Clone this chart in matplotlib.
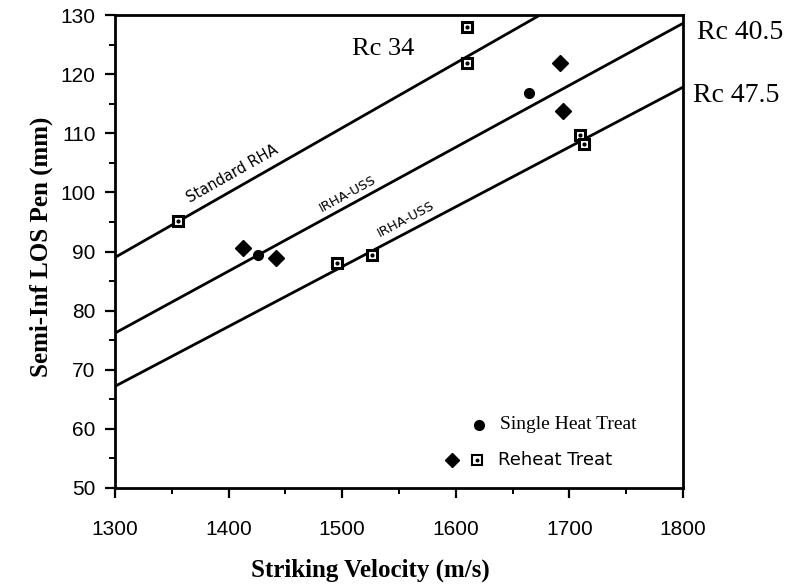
import matplotlib
matplotlib.use('Agg')
import matplotlib.pyplot as plt
import numpy as np

# fitted lines: value at 1300 and at 1800 m/s
line_names = ['Rc 34', 'Rc 40.5', 'Rc 47.5']
line_start = [89.0, 76.2, 67.2]
line_end = [143.8, 128.6, 117.8]

# reheat treat, square markers
sq_v = [1355, 1610, 1610, 1495, 1526, 1709, 1713]
sq_p = [95.1, 128.0, 121.9, 88.0, 89.4, 109.7, 108.2]

# reheat treat, diamond markers
dm_v = [1413, 1442, 1692, 1694]
dm_p = [90.6, 88.9, 121.9, 113.8]

# single heat treat, circles
ci_v = [1426, 1664]
ci_p = [89.4, 116.8]

xticks = [1300, 1400, 1500, 1600, 1700, 1800]
yticks = [50, 60, 70, 80, 90, 100, 110, 120, 130]

fig = plt.figure(figsize=(7.9, 5.87), dpi=100)
ax = fig.add_axes([0.1456, 0.1687, 0.719, 0.8057])

x = np.array([1300, 1800])
for s, e in zip(line_start, line_end):
    ax.plot(x, [s, e], color='black', lw=2.0, zorder=2)

ax.plot(sq_v, sq_p, 's', ms=7.5, mfc='white', mec='black', mew=2.2, zorder=3)
ax.plot(sq_v, sq_p, 'o', ms=2.0, color='black', zorder=4)
ax.plot(dm_v, dm_p, 'D', ms=8, color='black', zorder=3)
ax.plot(ci_v, ci_p, 'o', ms=7, color='black', zorder=3)

ax.set_xlim(1300, 1800)
ax.set_ylim(50, 130)
ax.set_xticks(xticks)
ax.set_yticks(yticks)
ax.set_xticks(np.arange(1350, 1800, 100), minor=True)
ax.set_yticks(np.arange(55, 130, 10), minor=True)
ax.tick_params(which='major', direction='out', length=7, width=1.6, labelsize=15)
ax.tick_params(axis='x', which='major', pad=16)
ax.tick_params(axis='y', which='major', pad=7)
ax.tick_params(which='minor', direction='out', length=4, width=1.4)
for lab in ax.get_xticklabels() + ax.get_yticklabels():
    lab.set_family('Liberation Sans')
for sp in ax.spines.values():
    sp.set_linewidth(2.0)

ax.set_xlabel('Striking Velocity (m/s)', family='Liberation Serif',
              fontweight='bold', fontsize=18)
ax.set_ylabel('Semi-Inf LOS Pen (mm)', family='Liberation Serif',
              fontweight='bold', fontsize=18)
ax.xaxis.set_label_coords(0.449, -0.150)
ax.yaxis.set_label_coords(-0.110, 0.51)

# line labels
ax.text(1366, 98.2, 'Standard RHA', rotation=29.5, family='DejaVu Sans',
        fontsize=10.5, rotation_mode='anchor')
ax.text(1482, 96.6, 'IRHA-USS', rotation=28.6, family='DejaVu Sans',
        fontsize=9.5, rotation_mode='anchor')
ax.text(1533, 92.4, 'IRHA-USS', rotation=27.8, family='DejaVu Sans',
        fontsize=9.5, rotation_mode='anchor')

ax.text(1536, 124.3, line_names[0], ha='center', va='center',
        family='Liberation Serif', fontsize=19)
ax.text(1812, 127.1, line_names[1], ha='left', va='center', clip_on=False,
        family='Liberation Serif', fontsize=20)
ax.text(1809, 116.4, line_names[2], ha='left', va='center', clip_on=False,
        family='Liberation Serif', fontsize=20)

# legend drawn inside the axes
ax.plot([1620], [60.7], 'o', ms=7, color='black')
ax.text(1639, 60.7, 'Single Heat Treat', ha='left', va='center',
        family='Liberation Serif', fontsize=14)
ax.plot([1597], [54.7], 'D', ms=7, color='black')
ax.plot([1619], [54.7], 's', ms=6.5, mfc='white', mec='black', mew=1.5)
ax.plot([1619], [54.7], 'o', ms=1.8, color='black')
ax.text(1637, 54.7, 'Reheat Treat', ha='left', va='center',
        family='DejaVu Sans', fontsize=13)

fig.savefig('out.png', dpi=100)
